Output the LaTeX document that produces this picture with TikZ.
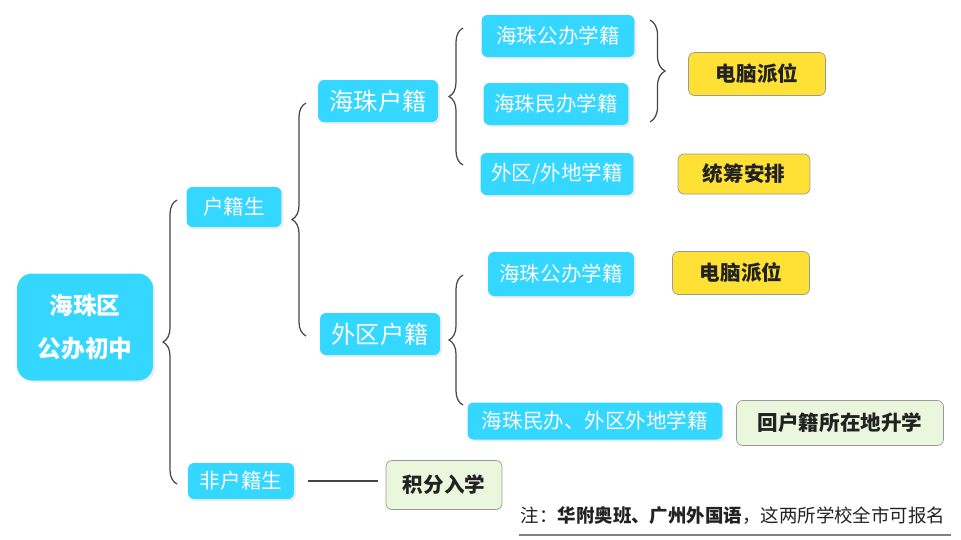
\documentclass[tikz,border=0pt]{standalone}
\usepackage{fontspec}
\setmainfont{Noto Sans CJK SC}
\usetikzlibrary{decorations.pathreplacing,shadows}
\definecolor{zbcyan}{HTML}{33D7FF}
\definecolor{zbyellow}{HTML}{FFE136}
\definecolor{zbgreen}{HTML}{EAF7DD}
\definecolor{zbline}{HTML}{444444}
\definecolor{zbtext}{HTML}{222222}

\begin{document}
\begin{tikzpicture}[x=0.02cm, y=-0.02cm]
    % Define styles
    \tikzstyle{rootbox} = [rectangle, rounded corners=0.3cm, fill=zbcyan, text=white, font=\fontsize{13.5}{24}\selectfont\bfseries, align=center, minimum width=2.72cm, minimum height=2.14cm, inner sep=0pt, drop shadow={opacity=0.15, shadow xshift=0.04cm, shadow yshift=-0.04cm}]
    \tikzstyle{catbox} = [rectangle, rounded corners=0.12cm, fill=zbcyan, text=white, font=\fontsize{11.7}{14}\selectfont, minimum height=0.84cm, inner sep=0pt, drop shadow={opacity=0.15, shadow xshift=0.04cm, shadow yshift=-0.04cm}]
    \tikzstyle{bigcat} = [catbox, font=\fontsize{13.8}{16}\selectfont]
    \tikzstyle{result} = [rectangle, rounded corners=0.12cm, draw=gray!80, fill=zbyellow, text=zbtext, font=\fontsize{11.7}{14}\selectfont\bfseries, minimum height=0.86cm, inner sep=0pt]
    \tikzstyle{other} = [result, fill=zbgreen]
    \tikzstyle{brc} = [draw=zbline, line width=0.7pt, decorate, decoration={brace, amplitude=0.28cm}]

    \useasboundingbox (0,0) rectangle (961,539);

    % Place nodes
    \node (root) [rootbox] at (85,327) {海珠区\\公办初中};
    \node (hj) [catbox, minimum width=1.9cm, minimum height=0.8cm] at (234,207) {户籍生};
    \node (fhj) [catbox, minimum width=2.12cm, minimum height=0.72cm] at (241,481) {非户籍生};
    \node (hzhj) [bigcat, minimum width=2.4cm] at (378,101) {海珠户籍};
    \node (wqhj) [bigcat, minimum width=2.4cm] at (380,334) {外区户籍};

    \node (hzgb) [catbox, minimum width=3.06cm] at (558,36) {海珠公办学籍};
    \node (hzmb) [catbox, minimum width=2.9cm] at (556,104) {海珠民办学籍};
    \node (wqwd) [catbox, minimum width=3.06cm] at (557,174) {外区/外地学籍};
    \node (hzgbb) [catbox, minimum width=2.92cm, minimum height=0.88cm] at (561,274) {海珠公办学籍};
    \node (hzmbwq) [catbox, minimum width=5.1cm, minimum height=0.74cm] at (595,421) {海珠民办、外区外地学籍};

    \node (pw) [result, minimum width=2.74cm] at (757,74) {电脑派位};
    \node (tc) [result, minimum width=2.64cm, minimum height=0.8cm] at (744,174) {统筹安排};
    \node (pwb) [result, minimum width=2.74cm] at (741,273) {电脑派位};
    \node (hhj) [other, minimum width=4.14cm, minimum height=0.9cm] at (840,423) {回户籍所在地升学};
    \node (jf) [other, minimum width=2.32cm, minimum height=0.98cm] at (444,485) {积分入学};

    \node (note) [text=zbtext, font=\fontsize{10.5}{12}\selectfont, inner sep=0pt] at (733,516) {注：\textbf{华附奥班、广州外国语}，这两所学校全市可报名};

    % Brace ends
    \coordinate (rtop) at (177,200);  \coordinate (rbot) at (177,484);
    \coordinate (htop) at (306,103);  \coordinate (hbot) at (306,336);
    \coordinate (ztop) at (463,28);   \coordinate (zbot) at (463,165);
    \coordinate (ptop) at (650,20);   \coordinate (pbot) at (650,122);
    \coordinate (wtop) at (463,275);  \coordinate (wbot) at (463,405);

    % Draw braces
    \draw [brc] (rbot) -- (rtop);
    \draw [brc] (hbot) -- (htop);
    \draw [brc] (zbot) -- (ztop);
    \draw [brc, decoration={brace, amplitude=0.3cm}] (ptop) -- (pbot);
    \draw [brc] (wbot) -- (wtop);

    % Lines
    \draw [zbline, line width=0.7pt, shorten <=0.28cm, shorten >=0.16cm] (fhj.east) -- (jf.west |- fhj.east);
    \draw [gray, line width=1pt] ([xshift=-0.04cm, yshift=-0.2cm]note.south west) -- ([xshift=0.1cm, yshift=-0.2cm]note.south east);
\end{tikzpicture}
\end{document}
